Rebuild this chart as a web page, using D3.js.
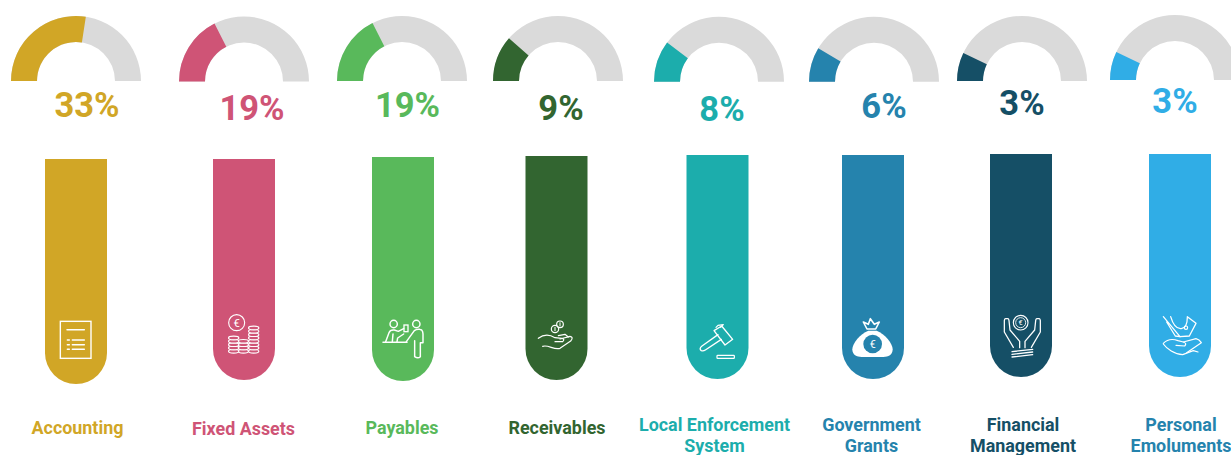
<!DOCTYPE html>
<html>
<head>
<meta charset="utf-8">
<title>Share of work by area</title>
<script src="https://cdn.jsdelivr.net/npm/d3@7"></script>
<style>
  html, body { margin: 0; padding: 0; background: #fff; }
  svg { display: block; font-family: Roboto, "Liberation Sans", sans-serif; }
  text { font-weight: 700; text-anchor: middle; }
</style>
</head>
<body>
<div id="chart"></div>
<script>
// Areas and their shares
const categories = ["Accounting", "Fixed Assets", "Payables", "Receivables",
  "Local Enforcement System", "Government Grants", "Financial Management", "Personal Emoluments"];
const shares = [33, 19, 19, 9, 8, 6, 3, 3];
const labelLines = [["Accounting"], ["Fixed Assets"], ["Payables"], ["Receivables"],
  ["Local Enforcement", "System"], ["Government", "Grants"], ["Financial", "Management"], ["Personal", "Emoluments"]];

// Colours per area
const colours = ["#d1a626", "#cf5476", "#59b95b", "#326530", "#1cadac", "#2583ad", "#154f66", "#30ade6"];
const labelColours = ["#d1a626", "#cf5476", "#59b95b", "#326530", "#1cadac", "#2583ad", "#154f66", "#2583ad"];
const TRACK = "#dadada";

// Hand-placed column layout
const gaugeX = [76, 244, 402, 558, 719, 874, 1022, 1175];
const gaugeY = [81, 81.5, 81, 81, 81.7, 81.7, 81, 80];
const percentX = [87, 252, 407.5, 561, 722, 884, 1022, 1175];
const percentY = [117, 120, 116.5, 120, 121, 118, 115, 113];
const barX = [76, 244, 403, 556.5, 717.5, 873, 1021, 1180];
const barTop = [159, 159, 157, 156, 155, 155, 154, 154];
const barBottom = [384, 380, 381, 380, 379, 379, 377, 377];
const nameX = [77.5, 243.5, 402, 557, 714.5, 871.5, 1023, 1181];
const nameY = [434, 435, 434, 434, 431, 431, 431, 431];

const WIDTH = 1231, HEIGHT = 455;
const OUTER_R = 65, INNER_R = 39, BAR_W = 62;

// The gauges use a stretched, non-linear sweep: share (%) to degrees from the left end
const sweep = d3.scaleLinear()
  .domain([0, 3, 6, 8, 9, 19, 33])
  .range([0, 25.5, 31, 37, 41, 63, 98.7]);

const arc = d3.arc().innerRadius(INNER_R).outerRadius(OUTER_R);
const START = -Math.PI / 2;

const svg = d3.select("#chart").append("svg")
  .attr("width", WIDTH).attr("height", HEIGHT)
  .attr("viewBox", `0 0 ${WIDTH} ${HEIGHT}`);

const columns = svg.selectAll("g.column")
  .data(categories.map((name, i) => ({ name, i, share: shares[i] })))
  .join("g").attr("class", "column");

// Gauge track and filled part
const gauges = columns.append("g")
  .attr("transform", d => `translate(${gaugeX[d.i]},${gaugeY[d.i]})`);
gauges.append("path")
  .attr("fill", TRACK)
  .attr("d", arc({ startAngle: START, endAngle: Math.PI / 2 }));
gauges.append("path")
  .attr("fill", d => colours[d.i])
  .attr("d", d => arc({ startAngle: START, endAngle: START + sweep(d.share) * Math.PI / 180 }));

// Percentage readout
columns.append("text")
  .attr("x", d => percentX[d.i]).attr("y", d => percentY[d.i])
  .attr("font-size", 34.5)
  .attr("fill", d => colours[d.i])
  .text(d => d3.format("d")(d.share) + "%");

// Tube with a flat top and a round bottom
const tube = (x, top, bottom) => {
  const r = BAR_W / 2, p = d3.path();
  p.moveTo(x - r, top);
  p.lineTo(x + r, top);
  p.lineTo(x + r, bottom - r);
  p.arc(x, bottom - r, r, 0, Math.PI);
  p.closePath();
  return p.toString();
};
columns.append("path")
  .attr("fill", d => colours[d.i])
  .attr("d", d => tube(barX[d.i], barTop[d.i], barBottom[d.i]));

// Area name under each tube
columns.append("text")
  .attr("font-size", 17.9)
  .attr("fill", d => labelColours[d.i])
  .selectAll("tspan")
  .data(d => labelLines[d.i].map((line, k) => ({ line, k, i: d.i })))
  .join("tspan")
  .attr("x", d => nameX[d.i])
  .attr("y", d => nameY[d.i] + d.k * 21)
  .text(d => d.line);

// Line icons, drawn at three times their size and scaled down
const line = (g, d, w = 4) => g.append("path").attr("d", d)
  .attr("fill", "none").attr("stroke", "#fff").attr("stroke-width", w)
  .attr("stroke-linecap", "round").attr("stroke-linejoin", "round");
const ring = (g, x, y, r, w = 3.6) => g.append("circle")
  .attr("cx", x).attr("cy", y).attr("r", r)
  .attr("fill", "none").attr("stroke", "#fff").attr("stroke-width", w);
const euro = (g, x, y, size) => g.append("text")
  .attr("x", x).attr("y", y + size * 0.36).attr("font-size", size)
  .attr("fill", "#fff").style("font-weight", 400).text("€");
const iconLayer = (x, y) => svg.append("g").attr("transform", `translate(${x},${y}) scale(${1 / 3})`);

// Ledger page
{
  const g = iconLayer(30, 300);
  g.append("rect").attr("x", 91).attr("y", 64).attr("width", 92).attr("height", 111)
    .attr("fill", "none").attr("stroke", "#fff").attr("stroke-width", 4.2);
  line(g, "M111,89H163", 4.4);
  [120, 134, 148].forEach(y => {
    line(g, `M112,${y}H118`, 4.4);
    line(g, `M127,${y}H163`, 4.4);
  });
}

// Euro coin above stacks of coins
{
  const g = iconLayer(30, 300);
  ring(g, 620, 68, 24, 3.4);
  euro(g, 620, 68, 34);
  const stack = (x, top, bottom) => {
    for (let y = bottom; y >= top; y -= 10) {
      g.append("ellipse").attr("cx", x).attr("cy", y).attr("rx", 15.5).attr("ry", 5.5)
        .attr("fill", "#cf5476").attr("stroke", "#fff").attr("stroke-width", 3.4);
    }
  };
  stack(640, 124, 154);
  stack(611, 105, 154);
  stack(671, 77, 154);
}

// Two people at a counter
{
  const g = iconLayer(373, 310);
  ring(g, 62, 42, 11, 4.4);
  ring(g, 130, 42, 11, 4.4);
  line(g, "M30,97H102", 4.6);
  line(g, "M38,95L48,68Q52,58 64,60L76,64L92,56M60,72L58,95M92,72L74,84L72,95", 4.4);
  g.append("rect").attr("x", 93).attr("y", 45).attr("width", 12).attr("height", 20)
    .attr("fill", "none").attr("stroke", "#fff").attr("stroke-width", 4);
  line(g, "M100,95L124,62Q130,57 140,58L146,60Q150,64 150,72V98H142V140Q135,147 125,140V92", 4.4);
}

// Coins dropping into an open hand
{
  const g = iconLayer(530, 315);
  ring(g, 75, 42, 11, 3.6);
  ring(g, 90, 28, 10, 3.6);
  line(g, "M75,37V47M90,23V33", 3);
  line(g, "M25,70C38,60 55,56 75,68L95,70Q106,72 98,80L75,80", 3.6);
  line(g, "M90,72L120,64Q132,66 122,78L90,100C72,106 55,88 38,94", 3.6);
  line(g, "M85,62L105,58L115,66", 3.6);
}

// Gavel and sound block
{
  const g = iconLayer(490, 300);
  line(g, "M672,92L695,78L728,118L705,135Z", 4);
  line(g, "M678,82L684,76L700,74L692,82", 3.6);
  line(g, "M684,104L636,138Q626,146 634,152Q640,154 646,150L694,118", 4);
  g.append("rect").attr("x", 681).attr("y", 166).attr("width", 52).attr("height", 9).attr("rx", 2)
    .attr("fill", "none").attr("stroke", "#fff").attr("stroke-width", 3.6);
}

// Money bag tied with a crown-shaped knot
{
  const g = iconLayer(845, 310);
  line(g, "M55,36L70,43L76,26L88,43L103,36L92,57H66Z", 4.8);
  g.append("path")
    .attr("d", "M70,62C45,72 22,100 22,118C22,135 35,141 50,141H115C130,141 143,135 143,118C143,100 120,72 95,62Z")
    .attr("fill", "#fff");
  g.append("circle").attr("cx", 83).attr("cy", 102).attr("r", 28).attr("fill", "#2583ad");
  euro(g, 83, 102, 32);
}

// Two raised hands around a coin
{
  const g = iconLayer(950, 300);
  ring(g, 212, 68, 22, 3.4);
  ring(g, 212, 68, 15, 2.6);
  euro(g, 212, 68, 22);
  line(g, "M170,56Q164,54 163,62V96L190,142M170,56Q176,54 177,62L180,90L209,124V143", 3.8);
  line(g, "M264,56Q270,54 271,62V96L244,142M264,56Q258,54 257,62L254,90L225,124V143", 3.8);
  line(g, "M186,155L248,148M186,163L248,156M186,171L248,164", 3.8);
}

// Banknote falling into a hand
{
  const g = iconLayer(950, 300);
  line(g, "M640,50L690,110M650,66L676,108M690,110L676,108", 3.8);
  line(g, "M662,50C668,70 678,88 694,86C708,84 712,66 712,52", 3.8);
  line(g, "M712,50L738,70L718,108L690,110", 3.8);
  ring(g, 708, 83, 5, 3.4);
  line(g, "M640,130C652,118 668,116 684,122L700,126Q712,130 704,138L678,136", 3.6);
  line(g, "M700,126L738,116Q748,118 754,128L710,158", 3.6);
  line(g, "M640,132C650,146 674,164 698,164L730,152L744,156", 3.6);
}
</script>
</body>
</html>
